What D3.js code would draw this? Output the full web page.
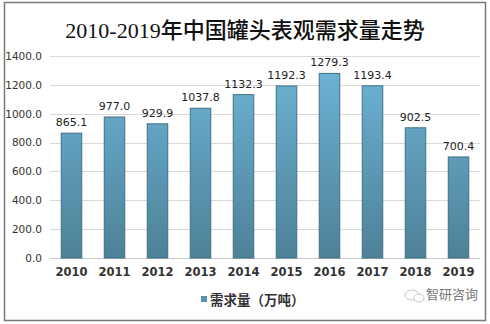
<!DOCTYPE html>
<html>
<head>
<meta charset="utf-8">
<script src="https://cdn.jsdelivr.net/npm/d3@7"></script>
<style>
  html, body { margin: 0; padding: 0; background: #fff; }
  svg { display: block; }
</style>
</head>
<body>
<svg id="chart" width="490" height="324"></svg>
<script>
// Apparent demand for canned food in China, 2010-2019 (10k tonnes)
const years = ["2010", "2011", "2012", "2013", "2014", "2015", "2016", "2017", "2018", "2019"];
const demand = [865.1, 977.0, 929.9, 1037.8, 1132.3, 1192.3, 1279.3, 1193.4, 902.5, 700.4];
const yTicks = [0, 200, 400, 600, 800, 1000, 1200, 1400];
const title = "2010-2019年中国罐头表观需求量走势";
const seriesName = "需求量（万吨）";
const source = "智研咨询";

const svg = d3.select("#chart");
const plot = { left: 50, right: 480, top: 56, bottom: 258 };

// Outer frame
svg.append("rect")
  .attr("x", 4.5).attr("y", 2.5)
  .attr("width", 481).attr("height", 318)
  .attr("fill", "#fff").attr("stroke", "#7a7a7a").attr("stroke-width", 1.5);

// Title
svg.append("text")
  .attr("x", 245).attr("y", 38)
  .attr("text-anchor", "middle")
  .attr("font-family", "'Liberation Serif', 'Noto Sans CJK SC', serif")
  .attr("font-size", 22)
  .attr("font-weight", 500)
  .attr("fill", "#111")
  .text(title);

const x = d3.scaleBand().domain(years).range([plot.left, plot.right]).paddingInner(0.5).paddingOuter(0.25);
const y = d3.scaleLinear().domain([0, 1400]).range([plot.bottom, plot.top]);

// Gridlines
svg.append("g")
  .selectAll("line")
  .data(yTicks)
  .join("line")
  .attr("x1", plot.left).attr("x2", plot.right)
  .attr("y1", d => Math.round(y(d)) + 0.5).attr("y2", d => Math.round(y(d)) + 0.5)
  .attr("stroke", d => d === 0 ? "#c8c8c8" : "#d9d9d9")
  .attr("stroke-width", 1);

// Y axis labels
const yAxis = d3.axisLeft(y).tickValues(yTicks).tickFormat(d3.format(".1f")).tickSize(0).tickPadding(8);
const gy = svg.append("g").attr("transform", `translate(${plot.left},0)`).call(yAxis);
gy.select(".domain").remove();
gy.selectAll("text")
  .attr("font-family", "'DejaVu Sans', sans-serif")
  .attr("font-size", 10.5)
  .attr("fill", "#333");

// X axis labels
const xAxis = d3.axisBottom(x).tickSize(0).tickPadding(10);
const gx = svg.append("g").attr("transform", `translate(0,${plot.bottom})`).call(xAxis);
gx.select(".domain").remove();
gx.selectAll("text")
  .attr("font-family", "'DejaVu Sans', sans-serif")
  .attr("font-size", 11.5)
  .attr("font-weight", "bold")
  .attr("fill", "#333");

// Bar gradient
const defs = svg.append("defs");
const grad = defs.append("linearGradient")
  .attr("id", "barGrad")
  .attr("gradientUnits", "userSpaceOnUse")
  .attr("x1", 0).attr("x2", 0)
  .attr("y1", plot.top).attr("y2", plot.bottom);
grad.append("stop").attr("offset", "0%").attr("stop-color", "#6fb6d8");
grad.append("stop").attr("offset", "100%").attr("stop-color", "#4d8198");

const rows = years.map((yr, i) => ({ yr, v: demand[i] }));

// Bars
svg.append("g")
  .selectAll("rect")
  .data(rows)
  .join("rect")
  .attr("x", d => x(d.yr) + 0.5)
  .attr("y", d => y(d.v))
  .attr("width", x.bandwidth() - 1)
  .attr("height", d => plot.bottom - y(d.v))
  .attr("fill", "url(#barGrad)")
  .attr("stroke", "#3f6f86")
  .attr("stroke-width", 1);

// Value labels
svg.append("g")
  .selectAll("text")
  .data(rows)
  .join("text")
  .attr("x", d => x(d.yr) + x.bandwidth() / 2)
  .attr("y", d => y(d.v) - 7)
  .attr("text-anchor", "middle")
  .attr("font-family", "'DejaVu Sans', sans-serif")
  .attr("font-size", 11)
  .attr("fill", "#222")
  .text(d => d3.format(".1f")(d.v));

// Legend
const lg = svg.append("g").attr("transform", "translate(201,300)");
lg.append("rect").attr("x", 0).attr("y", -4).attr("width", 6).attr("height", 6).attr("fill", "#5a93ae");
lg.append("text")
  .attr("x", 9).attr("y", 5)
  .attr("font-family", "'Noto Sans CJK SC', sans-serif")
  .attr("font-size", 13.5)
  .attr("font-weight", "bold")
  .attr("fill", "#333")
  .text(seriesName);

// Source mark
const sm = svg.append("g").attr("transform", "translate(405,294)").attr("opacity", 0.55);
sm.append("ellipse").attr("cx", 7).attr("cy", 1).attr("rx", 7).attr("ry", 5)
  .attr("fill", "none").attr("stroke", "#999").attr("stroke-width", 1);
sm.append("ellipse").attr("cx", 14).attr("cy", 4).attr("rx", 5).attr("ry", 4)
  .attr("fill", "#fff").attr("stroke", "#999").attr("stroke-width", 1);
svg.append("text")
  .attr("x", 426).attr("y", 299)
  .attr("font-family", "'Noto Sans CJK SC', sans-serif")
  .attr("font-size", 13)
  .attr("fill", "#777")
  .text(source);
</script>
</body>
</html>
